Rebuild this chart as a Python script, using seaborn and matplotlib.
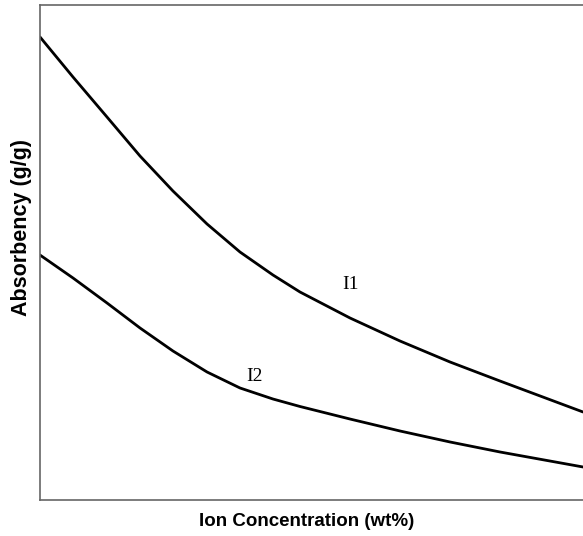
import matplotlib
matplotlib.use("Agg")
import matplotlib.pyplot as plt
import seaborn as sns
import pandas as pd

# Data (arbitrary units)
x_i1 = [0.0, 0.608, 1.234, 1.842, 2.449, 3.076, 3.683, 4.291, 4.788, 5.709, 6.630, 7.551, 8.471, 10.0]
y_i1 = [93.54, 85.45, 77.37, 69.49, 62.42, 55.76, 50.10, 45.45, 42.02, 36.77, 32.12, 27.88, 24.04, 17.78]
x_i2 = [0.0, 0.608, 1.234, 1.842, 2.449, 3.076, 3.683, 4.291, 4.788, 5.709, 6.630, 7.551, 8.471, 10.0]
y_i2 = [49.49, 44.85, 39.80, 34.75, 30.10, 25.86, 22.63, 20.40, 18.89, 16.36, 13.94, 11.72, 9.70, 6.67]
series_labels = ["I1", "I2"]
x_label = "Ion Concentration (wt%)"
y_label = "Absorbency (g/g)"

df = pd.concat([
    pd.DataFrame({"x": x_i1, "y": y_i1, "s": series_labels[0]}),
    pd.DataFrame({"x": x_i2, "y": y_i2, "s": series_labels[1]}),
])

sns.set_theme(style="white")
W, H = 583, 536
fig = plt.figure(figsize=(W / 100, H / 100), dpi=100)
ax = fig.add_axes([40 / W, 36 / H, 1 - 40 / W, (500 - 5) / H])

sns.lineplot(data=df, x="x", y="y", hue="s", palette=["black", "black"],
             linewidth=2.0, legend=False, ax=ax, sort=True)
for ln in ax.lines:
    ln.set_solid_joinstyle("round")
    ln.set_solid_capstyle("round")

ax.set_xlim(0, 10)
ax.set_ylim(0, 100)
ax.set_xticks([])
ax.set_yticks([])
ax.set_xlabel("")
ax.set_ylabel("")
for side in ["left", "top", "bottom", "right"]:
    ax.spines[side].set_color("#666666")
    ax.spines[side].set_linewidth(1.2)
ax.spines["right"].set_visible(False)

fig.text(307 / W, 1 - 521 / H, x_label, fontsize=13.5, fontweight="bold",
         family="Liberation Sans", ha="center", va="center", color="black")
fig.text(22 / W, 1 - 228 / H, y_label, fontsize=15.5, fontweight="bold",
         family="Liberation Sans", ha="center", va="center", rotation=90,
         color="black")

ax.text(5.727, 42.63, series_labels[0], fontsize=14, family="Liberation Serif",
        ha="center", va="baseline", color="black")
ax.text(3.959, 24.04, series_labels[1], fontsize=14, family="Liberation Serif",
        ha="center", va="baseline", color="black")

fig.savefig("out.png", dpi=100)
